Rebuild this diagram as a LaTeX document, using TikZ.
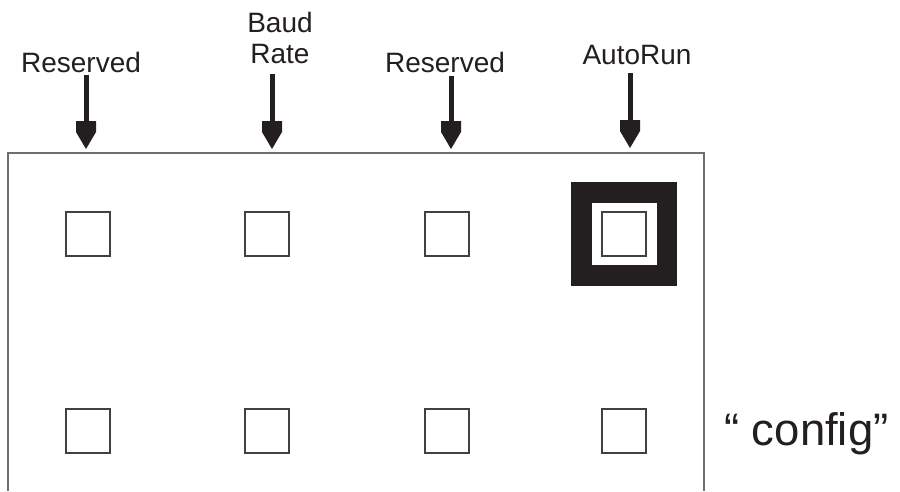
\documentclass[tikz,border=0pt]{standalone}
\usepackage{fontspec}
\setmainfont{Liberation Sans}
\definecolor{ink}{HTML}{231F20}
\definecolor{frame}{HTML}{6D6E70}
\definecolor{boxline}{HTML}{414042}
\begin{document}
\begin{tikzpicture}[x=1pt,y=-1pt,
  lbl/.style={inner sep=0pt,anchor=base,text=ink,font=\fontsize{28}{31}\selectfont,align=center},
  pad/.style={draw=boxline,line width=1.3pt,fill=white,minimum size=44pt,inner sep=0pt},
  shaft/.style={draw=ink,line width=5pt},
  head/.style={fill=ink}]
\useasboundingbox (0,0) rectangle (900,491);
\fill[white] (0,0) rectangle (900,491);

% board outline, open at the bottom
\draw[frame,line width=1.5pt] (8,491) -- (8,153) -- (704,153) -- (704,491);

% labels
\node[lbl] (r1) at (81,72) {Reserved};
\node[lbl] (br) at (280,63) {Baud\\Rate};
\node[lbl] (r2) at (445,72) {Reserved};
\node[lbl] (ar) at (637,64) {AutoRun};
\node[inner sep=0pt,anchor=base west,text=ink,font=\fontsize{45.5}{50}\selectfont] (cfg) at (724,445) {“ config”};

% arrow tips on the board edge
\coordinate (t1) at (86,149);
\coordinate (t2) at (272,149);
\coordinate (t3) at (451,149);
\coordinate (t4) at (630,148);

\foreach \t/\len in {t1/74,t2/75,t3/73,t4/75}{
  \draw[shaft] ([shift={(0,-\len)}]\t) -- ([shift={(0,-25)}]\t);
  \fill[head] ([shift={(-10,-28)}]\t) -- ([shift={(10,-28)}]\t) -- ([shift={(10,-17)}]\t)
     -- (\t) -- ([shift={(-10,-17)}]\t) -- cycle;
}

% jumper pads
\node[pad] (a1) at (88,234) {};
\node[pad] (a2) at (267,234) {};
\node[pad] (a3) at (447,234) {};
\fill[ink] (571,182) rectangle (677,286);
\fill[white] (592,203) rectangle (657,265);
\node[pad] (a4) at (624,234) {};

\node[pad] (b1) at (88,431) {};
\node[pad] (b2) at (267,431) {};
\node[pad] (b3) at (447,431) {};
\node[pad] (b4) at (624,431) {};
\end{tikzpicture}
\end{document}
